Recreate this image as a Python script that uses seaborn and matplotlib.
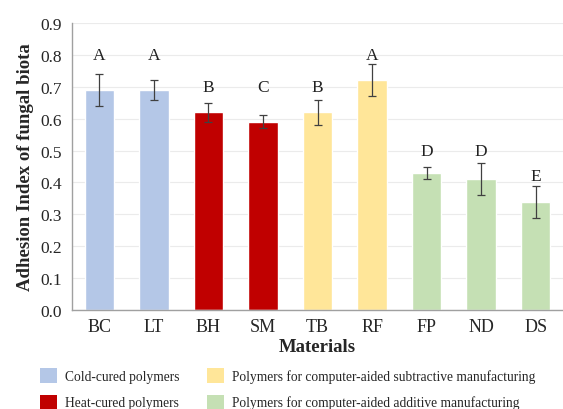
import matplotlib
matplotlib.use("Agg")
import matplotlib.pyplot as plt
from matplotlib.patches import Patch
import seaborn as sns
import pandas as pd

materials = ["BC", "LT", "BH", "SM", "TB", "RF", "FP", "ND", "DS"]
means = [0.69, 0.69, 0.62, 0.59, 0.62, 0.72, 0.43, 0.41, 0.34]
errors = [0.05, 0.03, 0.03, 0.02, 0.04, 0.05, 0.02, 0.05, 0.05]
letters = ["A", "A", "B", "C", "B", "A", "D", "D", "E"]
letter_y = [0.80, 0.80, 0.70, 0.70, 0.70, 0.80, 0.50, 0.50, 0.42]
groups = ["Cold-cured polymers", "Cold-cured polymers",
          "Heat-cured polymers", "Heat-cured polymers",
          "Polymers for computer-aided subtractive manufacturing",
          "Polymers for computer-aided subtractive manufacturing",
          "Polymers for computer-aided additive manufacturing",
          "Polymers for computer-aided additive manufacturing",
          "Polymers for computer-aided additive manufacturing"]
group_colors = {
    "Cold-cured polymers": "#B4C7E7",
    "Heat-cured polymers": "#C00000",
    "Polymers for computer-aided subtractive manufacturing": "#FFE699",
    "Polymers for computer-aided additive manufacturing": "#C5E0B4",
}

df = pd.DataFrame({"Material": materials, "Index": means, "Group": groups})

sns.set_style("white")
plt.rcParams["font.family"] = ["Liberation Serif", "DejaVu Serif"]

fig = plt.figure(figsize=(5.63, 4.10), dpi=100)
ax = fig.add_axes([72 / 563, 99 / 410, 1 - 72 / 563, 287 / 410])

sns.barplot(data=df, x="Material", y="Index", hue="Group", palette=group_colors,
            dodge=False, width=0.54, saturation=1, legend=False, ax=ax, zorder=2)
ax.errorbar(range(len(materials)), means, yerr=errors, fmt="none",
            ecolor="#404040", elinewidth=0.9, capsize=3, capthick=0.9, zorder=3)

for i, (lab, ly) in enumerate(zip(letters, letter_y)):
    ax.text(i, ly, lab, ha="center", va="center", fontsize=12.5, color="#222222")

ax.set_ylim(0, 0.9)
ax.set_xlim(-0.5, 8.42)
ax.set_yticks([i / 10 for i in range(10)])
ax.set_yticklabels([f"{i / 10:.1f}" for i in range(10)], fontsize=12.5)
ax.set_xticks(range(len(materials)))
ax.set_xticklabels(materials, fontsize=13)
ax.tick_params(axis="x", length=0, pad=6)
ax.set_xticks([i - 0.5 for i in range(len(materials) + 1)], minor=True)
ax.tick_params(axis="x", which="minor", length=4, color="#999999", direction="out")
ax.tick_params(axis="y", length=4, color="#999999", direction="out", pad=3)
ax.grid(axis="y", color="#EBEBEB", linewidth=0.8, zorder=0)
ax.set_axisbelow(True)
for s in ["top", "right"]:
    ax.spines[s].set_visible(False)
for s in ["left", "bottom"]:
    ax.spines[s].set_color("#A0A0A0")
    ax.spines[s].set_linewidth(1)

ax.set_ylabel("Adhesion Index of fungal biota", fontsize=13.5, fontweight="bold", labelpad=5)
ax.set_xlabel("Materials", fontsize=13.5, fontweight="bold", labelpad=2)

handles = [Patch(facecolor=c, edgecolor="none", label=g) for g, c in group_colors.items()]
fig.legend(handles=handles, ncol=2, loc="center", bbox_to_anchor=(0.511, 0.049),
           frameon=False, fontsize=9.75, handlelength=1.25, handleheight=1.25,
           columnspacing=2.0, handletextpad=0.6, labelspacing=0.85)

fig.savefig("out.png", dpi=100)
